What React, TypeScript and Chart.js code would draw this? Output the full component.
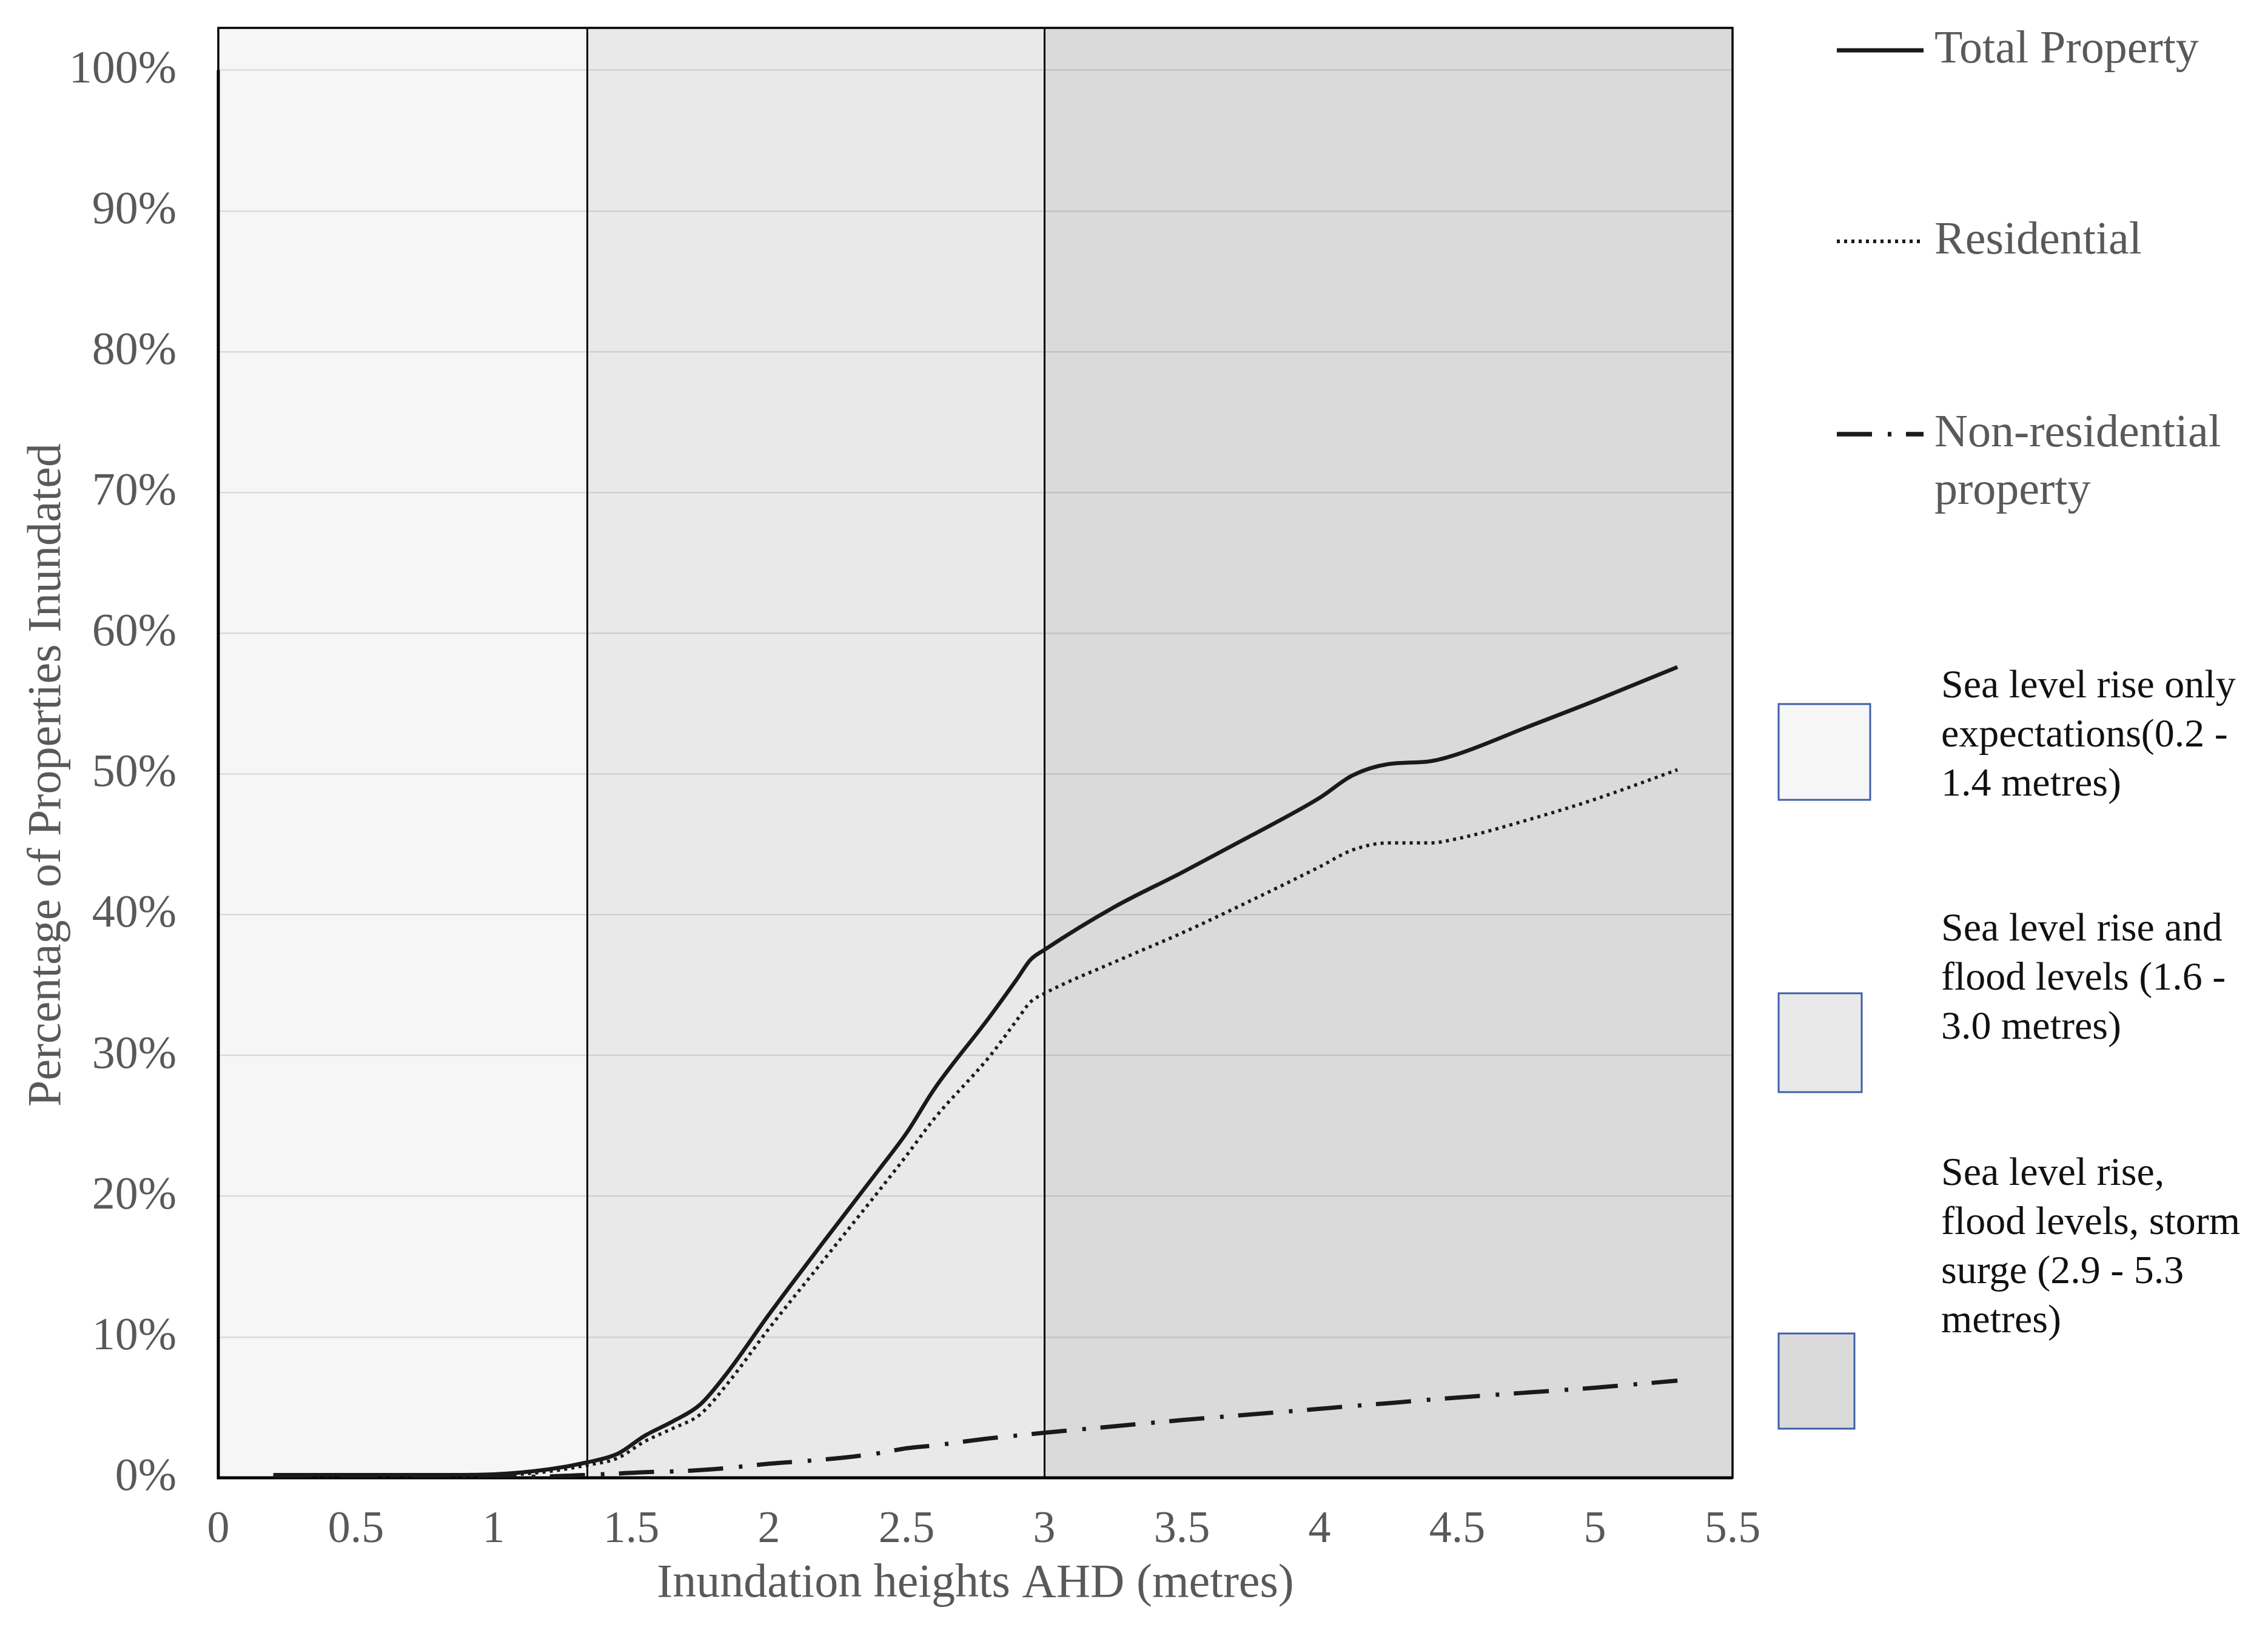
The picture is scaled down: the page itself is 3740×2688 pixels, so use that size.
import React, { useEffect, useRef } from 'react';
import { Chart, registerables } from 'chart.js';

Chart.register(...registerables);

// ---------------- data ----------------
const heights = [0.2, 0.4, 0.6, 0.8, 1.0, 1.2, 1.34, 1.45, 1.55, 1.65, 1.75, 1.85, 2.0, 2.2, 2.4, 2.5, 2.6, 2.8, 2.9, 2.95, 3.0, 3.25, 3.5, 3.75, 4.0, 4.12, 4.25, 4.4, 4.5, 4.75, 5.0, 5.3];
const totalProperty = [0.2, 0.2, 0.2, 0.2, 0.25, 0.6, 1.1, 1.7, 3.0, 4.0, 5.2, 7.5, 11.6, 16.8, 21.9, 24.5, 27.6, 32.7, 35.4, 36.8, 37.5, 40.5, 43.0, 45.6, 48.3, 49.9, 50.7, 50.9, 51.4, 53.3, 55.2, 57.6];
const residential = [0.1, 0.1, 0.1, 0.1, 0.15, 0.45, 0.9, 1.4, 2.6, 3.5, 4.5, 6.7, 10.6, 15.5, 20.4, 22.9, 25.5, 29.9, 32.5, 33.8, 34.4, 36.6, 38.7, 41.0, 43.4, 44.6, 45.1, 45.1, 45.4, 46.7, 48.2, 50.3];
const nonResidential = [0.05, 0.05, 0.05, 0.05, 0.05, 0.1, 0.2, 0.3, 0.4, 0.45, 0.55, 0.7, 1.0, 1.3, 1.75, 2.1, 2.3, 2.8, 3.0, 3.1, 3.2, 3.65, 4.1, 4.5, 4.9, 5.1, 5.3, 5.55, 5.7, 6.05, 6.4, 6.9];

const seriesNames = ['Total Property', 'Residential', 'Non-residential property'];
const lineLegendLabels = [['Total Property'], ['Residential'], ['Non-residential', 'property']];

const xTickValues = [0, 0.5, 1, 1.5, 2, 2.5, 3, 3.5, 4, 4.5, 5, 5.5];
const yTickValues = [0, 10, 20, 30, 40, 50, 60, 70, 80, 90, 100];

const xAxisTitle = 'Inundation heights AHD (metres)';
const yAxisTitle = 'Percentage of Properties Inundated';

const zoneEdges = [0, 1.34, 3.0, 5.5];
const zoneDividers = [1.34, 3.0];
const zoneLegendLabels = [
  ['Sea level rise only', 'expectations(0.2 -', '1.4 metres)'],
  ['Sea level rise and', 'flood levels (1.6 -', '3.0 metres)'],
  ['Sea level rise,', 'flood levels, storm', 'surge (2.9 - 5.3', 'metres)'],
];

// ---------------- styles ----------------
const FONT = '"Liberation Serif", "Times New Roman", serif';
const GRAY_TEXT = '#595959';
const zoneColors = ['#f6f6f6', '#e9e9e9', '#dadada'];
const LINE_COLOR = '#1a1a1a';

const yTitleLayout = { x: 79, y: 1278, size: 78 };
const lineLegendLayout = { x0: 3029, x1: 3172, textX: 3190, ys: [83, 398, 716], lineGap: 95, size: 76 };
const boxLegendLayout = {
  boxes: [
    { x: 2933, y: 1161, w: 151, h: 158 },
    { x: 2933, y: 1638, w: 137, h: 163 },
    { x: 2933, y: 2199, w: 125, h: 157 },
  ],
  textX: 3201,
  textYs: [1133, 1534, 1937],
  lineGap: 81,
  size: 66,
};

const W = 3740;
const H = 2688;

const decorPlugin = {
  id: 'decor',
  beforeDraw(chart: any) {
    const { ctx, chartArea, scales } = chart;
    const x = scales.x;
    ctx.save();
    for (let i = 0; i < zoneColors.length; i++) {
      const a = x.getPixelForValue(zoneEdges[i]);
      const b = x.getPixelForValue(zoneEdges[i + 1]);
      ctx.fillStyle = zoneColors[i];
      ctx.fillRect(a, chartArea.top, b - a, chartArea.bottom - chartArea.top);
    }
    ctx.restore();
  },
  beforeDatasetsDraw(chart: any) {
    const { ctx, chartArea, scales } = chart;
    const x = scales.x;
    const y = scales.y;
    ctx.save();
    ctx.strokeStyle = '#000';
    ctx.lineWidth = 3;
    zoneDividers.forEach((v) => {
      const px = Math.round(x.getPixelForValue(v)) + 0.5;
      ctx.beginPath();
      ctx.moveTo(px, chartArea.top);
      ctx.lineTo(px, chartArea.bottom);
      ctx.stroke();
    });
    ctx.lineWidth = 3.5;
    ctx.strokeRect(chartArea.left, chartArea.top, chartArea.right - chartArea.left, chartArea.bottom - chartArea.top);
    ctx.lineWidth = 5;
    ctx.beginPath();
    ctx.moveTo(chartArea.left, y.getPixelForValue(100));
    ctx.lineTo(chartArea.left, chartArea.bottom);
    ctx.lineTo(chartArea.right, chartArea.bottom);
    ctx.stroke();
    ctx.restore();
  },
  afterDraw(chart: any) {
    const { ctx } = chart;
    ctx.save();
    // y axis title
    ctx.save();
    ctx.translate(yTitleLayout.x, yTitleLayout.y);
    ctx.rotate(-Math.PI / 2);
    ctx.fillStyle = GRAY_TEXT;
    ctx.font = `${yTitleLayout.size}px ${FONT}`;
    ctx.textAlign = 'center';
    ctx.textBaseline = 'middle';
    ctx.fillText(yAxisTitle, 0, 0);
    ctx.restore();
    // line legend
    chart.data.datasets.forEach((ds: any, i: number) => {
      const y = lineLegendLayout.ys[i];
      ctx.strokeStyle = ds.borderColor;
      ctx.lineWidth = ds.borderWidth + 0.5;
      ctx.setLineDash(ds.borderDash || []);
      ctx.beginPath();
      ctx.moveTo(lineLegendLayout.x0, y);
      ctx.lineTo(lineLegendLayout.x1, y);
      ctx.stroke();
      ctx.setLineDash([]);
      ctx.fillStyle = GRAY_TEXT;
      ctx.font = `${lineLegendLayout.size}px ${FONT}`;
      ctx.textBaseline = 'middle';
      ctx.textAlign = 'left';
      lineLegendLabels[i].forEach((t, j) => {
        ctx.fillText(t, lineLegendLayout.textX, y + j * lineLegendLayout.lineGap);
      });
    });
    // zone legend
    boxLegendLayout.boxes.forEach((b, i) => {
      ctx.fillStyle = zoneColors[i];
      ctx.fillRect(b.x, b.y, b.w, b.h);
      ctx.strokeStyle = '#3f5fa8';
      ctx.lineWidth = 3;
      ctx.strokeRect(b.x, b.y, b.w, b.h);
      ctx.fillStyle = '#111';
      ctx.font = `${boxLegendLayout.size}px ${FONT}`;
      ctx.textBaseline = 'middle';
      ctx.textAlign = 'left';
      zoneLegendLabels[i].forEach((t, j) => {
        ctx.fillText(t, boxLegendLayout.textX, boxLegendLayout.textYs[i] + j * boxLegendLayout.lineGap);
      });
    });
    ctx.restore();
  },
};

export default function App() {
  const ref = useRef<HTMLCanvasElement | null>(null);

  useEffect(() => {
    if (!ref.current) return;
    const toPts = (arr: number[]) => heights.map((h, i) => ({ x: h, y: arr[i] }));
    const chart = new Chart(ref.current, {
      type: 'line',
      data: {
        datasets: [
          {
            label: seriesNames[0],
            data: toPts(totalProperty),
            borderColor: LINE_COLOR,
            borderWidth: 6.5,
            pointRadius: 0,
            cubicInterpolationMode: 'monotone',
            fill: false,
          },
          {
            label: seriesNames[1],
            data: toPts(residential),
            borderColor: LINE_COLOR,
            borderWidth: 5.5,
            borderDash: [5, 7],
            pointRadius: 0,
            cubicInterpolationMode: 'monotone',
            fill: false,
          },
          {
            label: seriesNames[2],
            data: toPts(nonResidential),
            borderColor: LINE_COLOR,
            borderWidth: 7,
            borderDash: [58, 26, 6, 24],
            pointRadius: 0,
            cubicInterpolationMode: 'monotone',
            fill: false,
          },
        ],
      } as any,
      options: {
        animation: false,
        responsive: false,
        devicePixelRatio: 1,
        layout: { padding: { left: 40, top: 46, right: W - 2857, bottom: 36 } },
        plugins: { legend: { display: false }, tooltip: { enabled: false } },
        scales: {
          x: {
            type: 'linear',
            min: 0,
            max: 5.5,
            afterBuildTicks: (s: any) => {
              s.ticks = xTickValues.map((v) => ({ value: v }));
            },
            afterFit: (s: any) => {
              s.height = 215;
              s.paddingLeft = 0;
              s.paddingRight = 0;
            },
            ticks: {
              autoSkip: false,
              maxRotation: 0,
              padding: 42,
              color: GRAY_TEXT,
              font: { family: FONT, size: 74, lineHeight: 1.2 },
              callback: (v: any) => String(v),
            },
            grid: { display: false, drawTicks: false },
            border: { display: false },
            title: {
              display: true,
              text: xAxisTitle,
              color: GRAY_TEXT,
              font: { family: FONT, size: 78, lineHeight: 1 },
              padding: { top: 0, bottom: 0 },
            },
          },
          y: {
            type: 'linear',
            min: 0,
            max: 103,
            afterBuildTicks: (s: any) => {
              s.ticks = yTickValues.map((v) => ({ value: v }));
            },
            afterFit: (s: any) => {
              s.width = 320;
              s.paddingTop = 0;
              s.paddingBottom = 0;
            },
            ticks: {
              padding: 69,
              color: GRAY_TEXT,
              font: { family: FONT, size: 76 },
              callback: (v: any) => v + '%',
            },
            grid: { color: 'rgba(0,0,0,0.11)', lineWidth: 2.5, drawTicks: false },
            border: { display: false },
            title: { display: false },
          },
        },
      } as any,
      plugins: [decorPlugin],
    });
    return () => chart.destroy();
  }, []);

  return (
    <div style={{ position: 'fixed', left: 0, top: 0, width: W, height: H, background: '#fff' }}>
      <canvas ref={ref} width={W} height={H} style={{ width: W, height: H, display: 'block' }} />
    </div>
  );
}
